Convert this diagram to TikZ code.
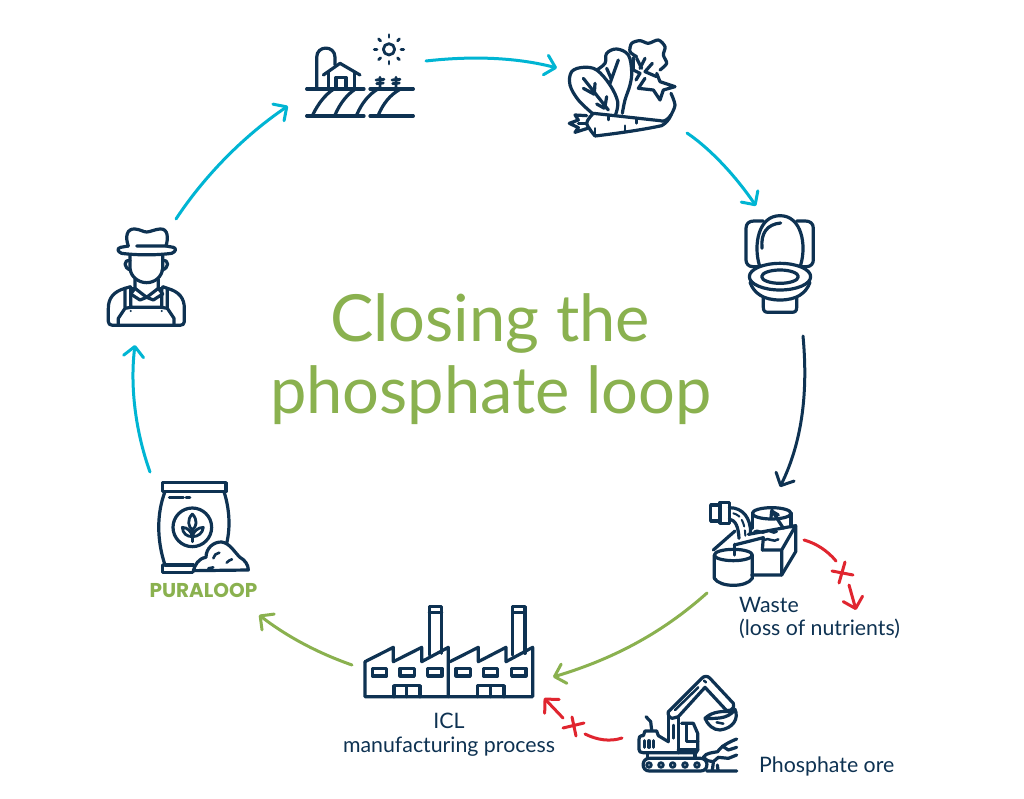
\documentclass[tikz,border=0pt]{standalone}
\usepackage{fontspec}
\usetikzlibrary{arrows.meta}
\setmainfont{Lato}
\newfontfamily\brandfont{Poppins}[UprightFont=*-Bold]
\definecolor{navy}{HTML}{0E3252}
\definecolor{cy}{HTML}{00B5D3}
\definecolor{grn}{HTML}{8AB14F}
\definecolor{rd}{HTML}{E0252F}
\tikzset{
  ic/.style={draw=navy,line width=3.2pt,line cap=round,line join=round},
  zoomed/.style={x=0.33333pt,y=-0.33333pt},
  flow/.style={line width=3pt,line cap=round,-{Straight Barb[length=10pt,width=20pt,round]}},
  cyflow/.style={flow,draw=cy},
  navyflow/.style={flow,draw=navy},
  grnflow/.style={flow,draw=grn},
  redflow/.style={flow,draw=rd},
  redseg/.style={draw=rd,line width=3pt,line cap=round},
  lbl/.style={inner sep=0pt,text=navy,font=\fontsize{21.3}{23.5}\selectfont,align=left},
  ttl/.style={inner sep=0pt,text=grn,anchor=base,font=\fontsize{65}{70}\selectfont},
}
\begin{document}
\begin{tikzpicture}[x=1pt,y=-1pt]
\useasboundingbox (0,0) rectangle (1024,799);
\fill[white] (0,0) rectangle (1024,799);

% title
\node[name=title1,ttl] at (490,341) {Closing the};
\node[name=title2,ttl] at (491,413) {phosphate loop};

% farm
\begin{scope}[shift={(290,20)},zoomed]
\draw[ic] (50,207)--(222,207) (240,207)--(370,207) (50,288)--(222,288) (240,288)--(370,288);
\draw[ic] (68,285) .. controls (85,250) and (105,225) .. (130,208);
\draw[ic] (135,285) .. controls (150,250) and (170,225) .. (195,208);
\draw[ic] (200,285) .. controls (215,250) and (235,225) .. (262,208);
\draw[ic] (265,285) .. controls (280,250) and (300,225) .. (330,208);
\draw[ic] (80,205)--(80,112) .. controls (80,75) and (135,75) .. (135,112)--(135,135);
\draw[ic] (100,165)--(150,130)--(210,165);
\draw[ic] (115,155)--(115,205) (193,155)--(193,205);
\draw[ic] (138,205)--(138,172)--(168,172)--(168,205);
\draw[ic,line width=2.8pt] (297,88) circle[radius=17];
\foreach \a in {0,45,...,315}{\draw[ic,line width=2.8pt] (297,88) ++(\a:36) -- ++(\a:8);}
\draw[ic,line width=2.8pt] (270,172)--(270,205) (258,180)--(282,178) (260,191)--(280,189);
\draw[ic,line width=2.8pt] (318,172)--(318,205) (306,180)--(330,178) (308,191)--(328,189);
\end{scope}

% vegetables
\begin{scope}[shift={(565,35)},zoomed]
\draw[ic] plot[smooth,tension=.6] coordinates {(82,235)(40,195)(15,150)(20,110)(55,97)(95,105)(135,150)(158,200)(152,238)};
\draw[ic] (55,130)--(130,225) (90,145)--(88,175) (55,160)--(88,178) (125,185)--(120,215) (95,207)--(118,220);
\draw[ic] plot[smooth,tension=.6] coordinates {(95,105)(120,85)(125,55)(155,42)(190,60)(200,110)(195,150)(180,195)(172,235)};
\draw[ic] (160,75)--(135,145) (125,100)--(138,130);
\draw[ic] plot[smooth,tension=.5] coordinates {(215,65)(195,50)(200,25)(225,17)(250,25)(280,15)(300,35)(295,60)(305,85)(285,105)};
\draw[ic] (205,68)--(205,105)--(225,115)--(213,135);
\draw[ic] (215,70)--(230,100) (240,70)--(225,100) (262,85)--(240,110)--(275,125);
\draw[ic] (240,130)--(220,160)--(265,165)--(285,195)--(295,165)--(330,155)--(285,140)--(275,115);
\draw[ic] plot[smooth] coordinates {(318,175)(330,210)(318,240)};
\draw[ic] (85,235)--(285,257) .. controls (295,262) and (308,255) .. (318,240);
\draw[ic] (90,303) .. controls (150,296) and (230,285) .. (290,272) .. controls (302,265) and (312,255) .. (318,240);
\draw[ic] plot[smooth] coordinates {(85,235)(65,265)(90,303)};
\draw[ic] (65,242)--(30,240)--(40,255)--(13,265)--(40,278)--(30,292)--(68,280);
\draw[ic] (40,265)--(65,265);
\draw[ic,line width=2.5pt] (130,240)--(130,255) (180,272)--(180,290) (215,250)--(215,265) (90,280)--(90,300);
\end{scope}

% toilet
\begin{scope}[shift={(730,205)},zoomed]
\draw[ic] (85,185)--(68,185) .. controls (55,185) and (48,175) .. (48,165)--(48,70) .. controls (48,55) and (58,48) .. (72,48)--(100,48);
\draw[ic] (215,185)--(230,185) .. controls (243,185) and (250,175) .. (250,165)--(250,70) .. controls (250,55) and (240,48) .. (226,48)--(200,48);
\draw[ic] (88,180) .. controls (70,120) and (85,32) .. (150,32) .. controls (215,32) and (230,120) .. (212,180);
\draw[ic] (96,130) .. controls (92,85) and (110,58) .. (152,54);
\draw[ic] (150,215) ellipse[x radius=92,y radius=40];
\draw[ic] (150,215) ellipse[x radius=55,y radius=20];
\draw[ic] (60,232) .. controls (72,265) and (100,285) .. (150,285) .. controls (200,285) and (228,265) .. (240,232);
\draw[ic] (100,278)--(100,308) .. controls (100,318) and (105,322) .. (115,322)--(185,322) .. controls (195,322) and (200,318) .. (200,308)--(200,278);
\end{scope}

% waste treatment
\begin{scope}[shift={(705,495)},zoomed]
\draw[ic] (17,30) rectangle (45,78);
\draw[ic] (45,22) rectangle (73,85);
\draw[ic] (73,38) .. controls (115,38) and (137,70) .. (137,115);
\draw[ic] (73,72) .. controls (92,76) and (100,95) .. (102,130);
\draw[ic,line width=2pt,dash pattern=on 7pt off 4pt] (85,55) .. controls (108,60) and (120,85) .. (121,122);
\draw[ic] (25,165)--(90,108);
\draw[ic] (200,55) ellipse[x radius=58,y radius=17];
\draw[ic] (142,55)--(142,100) (258,55)--(258,95);
\draw[ic] (200,45)--(235,100) (200,48)--(198,68) (200,48)--(220,60);
\draw[ic] (130,118)--(272,92)--(272,170)--(230,240)--(140,240);
\draw[ic] (272,92)--(230,165)--(230,240) (172,165)--(230,165);
\draw[ic] (88,150)--(175,128)--(172,165);
\draw[ic,line width=2.5pt] (148,110) .. controls (160,100) and (170,120) .. (182,110) .. controls (194,100) and (203,120) .. (215,110);
\draw[ic,line width=2.5pt] (178,135) .. controls (190,125) and (205,145) .. (220,133);
\draw[ic] (85,180) ellipse[x radius=57,y radius=17];
\draw[ic] (88,148)--(88,180);
\draw[ic] (28,180)--(28,250) .. controls (45,278) and (125,278) .. (142,250)--(142,180);
\end{scope}

% factory
\begin{scope}[shift={(340,590)},zoomed]
\draw[ic] (268,195)--(268,50)--(305,50)--(305,190) (268,68)--(305,68);
\draw[ic] (518,195)--(518,50)--(555,50)--(555,190) (518,68)--(555,68);
\draw[ic] (75,215)--(160,172)--(160,215)--(245,172)--(245,215)--(325,172)--(325,320);
\draw[ic] (75,215)--(75,320)--(578,320)--(578,172)--(498,215)--(498,172)--(415,215)--(415,172)--(330,215);
\foreach \x in {97,180,263,348,430,515}{\draw[ic] (\x,235) rectangle ++(43,23);}
\draw[ic] (162,320)--(162,287)--(240,287)--(240,320) (200,287)--(200,320);
\draw[ic] (413,320)--(413,287)--(492,287)--(492,320) (452,287)--(452,320);
\end{scope}

% excavator
\begin{scope}[shift={(635,670)},zoomed]
\draw[ic] (43,265)--(197,265) .. controls (222,265) and (222,303) .. (197,303)--(43,303) .. controls (18,303) and (18,265) .. (43,265);
\foreach \x in {42,78,113,150,186}{\draw[ic,line width=2.8pt] (\x,285) circle[radius=7];}
\draw[ic] (38,262)--(38,248) (180,262)--(180,245);
\draw[ic] (100,215)--(70,197)--(65,183)--(30,183)--(25,197)--(20,197) .. controls (14,197) and (12,202) .. (12,208)--(12,238) .. controls (12,245) and (16,248) .. (24,248)--(185,248);
\draw[ic] (33,140)--(47,155)--(50,180);
\draw[ic] (28,212)--(28,232) (42,212)--(42,232) (55,212)--(55,232);
\draw[ic] (140,160)--(175,160)--(188,190)--(188,240)--(172,248);
\draw[ic] (155,165)--(155,215)--(188,215) (130,240)--(188,240);
\draw[ic] (100,125)--(100,195)--(100,215) (130,140)--(130,248);
\draw[ic,line width=2.5pt] (115,165)--(115,205);
\draw[ic] (100,125)--(200,25) .. controls (208,17) and (218,17) .. (225,25)--(295,100) .. controls (298,108) and (296,116) .. (288,120)--(275,122)--(210,52)--(130,140)--(112,145) .. controls (102,143) and (98,135) .. (100,125);
\draw[ic,line width=2.5pt] (120,120)--(190,52) (207,32)--(213,37);
\draw[ic] (210,145) .. controls (225,130) and (250,122) .. (285,125) (300,118) .. controls (312,145) and (295,175) .. (255,180) .. controls (235,180) and (218,165) .. (210,145) .. controls (235,145) and (280,150) .. (300,118);
\draw[ic,line width=2.5pt] (245,157)--(265,161);
\draw[ic] (205,262) .. controls (212,248) and (235,248) .. (248,245) .. controls (258,228) and (285,215) .. (305,207);
\draw[ic] (305,232)--(280,240)--(262,228);
\draw[ic] (305,255)--(280,265)--(250,262)--(235,275)--(218,272)--(205,262);
\draw[ic] (215,303)--(305,303) (235,278)--(232,300) (247,285)--(249,300);
\end{scope}

% bag
\begin{scope}[shift={(130,470)},zoomed]
\draw[ic] (98,38) rectangle (288,65);
\draw[ic] (105,65) .. controls (80,130) and (80,210) .. (105,285);
\draw[ic] (282,65) .. controls (298,115) and (302,170) .. (290,220);
\draw[ic] (190,285)--(105,285) (98,285)--(98,308)--(188,308);
\draw[ic,line width=2.8pt] (118,83)--(160,83) (168,83)--(180,83);
\draw[ic] (187,172) circle[radius=58];
\draw[ic,line width=2.8pt] (187,132) .. controls (170,150) and (175,170) .. (187,180) .. controls (200,170) and (204,150) .. (187,132);
\draw[ic,line width=2.8pt] (187,180)--(187,215);
\draw[ic,line width=2.8pt] (187,200) .. controls (170,200) and (158,190) .. (157,172) .. controls (172,172) and (185,185) .. (187,200);
\draw[ic,line width=2.8pt] (187,200) .. controls (204,200) and (218,190) .. (220,172) .. controls (204,172) and (189,185) .. (187,200);
\draw[ic] (190,302) .. controls (195,285) and (205,265) .. (228,262) .. controls (228,235) and (250,215) .. (275,216) .. controls (300,220) and (312,245) .. (330,262) .. controls (345,270) and (355,285) .. (355,300)--(190,302);
\draw[ic,line width=2.6pt] (250,265) .. controls (252,255) and (258,250) .. (268,248);
\draw[ic,line width=2.6pt] (290,278) .. controls (295,272) and (300,270) .. (306,268);
\draw[ic,line width=2.6pt] (235,295)--(250,292);
\end{scope}
\node[name=brand,inner sep=0pt,text=grn] at (203.5,590.5) {\brandfont\fontsize{20}{22}\selectfont PURALOOP};

% farmer
\begin{scope}[shift={(90,220)},zoomed]
\draw[ic] (115,78) .. controls (105,50) and (110,25) .. (135,27) .. controls (150,28) and (160,36) .. (170,36) .. controls (180,36) and (195,28) .. (210,27) .. controls (235,25) and (235,55) .. (228,78);
\draw[ic] (140,78)--(228,78)--(250,82) .. controls (260,85) and (258,95) .. (245,100) .. controls (200,106) and (140,106) .. (95,100) .. controls (82,95) and (80,85) .. (92,82)--(115,78);
\draw[ic] (120,105)--(120,145) .. controls (122,170) and (145,188) .. (170,188) .. controls (195,188) and (216,170) .. (218,145)--(218,105);
\draw[ic] (120,122) .. controls (100,118) and (100,145) .. (122,150);
\draw[ic] (218,122) .. controls (238,118) and (238,145) .. (216,150);
\draw[ic] (135,178)--(135,205)--(170,232)--(205,205)--(205,178);
\draw[ic] (135,205)--(122,205) (205,205)--(218,205);
\draw[ic] (135,205)--(122,222)--(150,240)--(170,232)--(190,240)--(218,222)--(205,205);
\draw[ic] (122,200) -- (105,205) .. controls (70,215) and (55,235) .. (55,265)--(55,305) .. controls (55,312) and (60,316) .. (68,316)--(270,316) .. controls (278,316) and (283,312) .. (283,305)--(283,265) .. controls (283,235) and (268,215) .. (232,205)--(218,200);
\draw[ic] (105,205)--(105,265)--(85,295)--(85,316) (122,205)--(122,262)--(215,262)--(215,205) (232,205)--(232,265)--(252,295)--(252,316);
\draw[ic] (105,265)--(122,262) (215,262)--(232,265);
\fill[navy] (122,273) circle[radius=3.5] (215,273) circle[radius=3.5];
\end{scope}

% connector ends
\coordinate (farmOut) at (426,61);
\coordinate (vegIn) at (557,68);
\coordinate (vegOut) at (687,133);
\coordinate (toiletIn) at (756,206);
\coordinate (toiletOut) at (803,336);
\coordinate (wasteIn) at (780,487);
\coordinate (wasteOut) at (707,593);
\coordinate (factoryIn) at (553,677);
\coordinate (factoryOut) at (352,665);
\coordinate (bagIn) at (259,615);
\coordinate (bagOut) at (150,472);
\coordinate (farmerIn) at (135,345);
\coordinate (farmerOut) at (176,219);
\coordinate (farmIn) at (288,106);
\coordinate (lossStart) at (804,540);
\coordinate (lossEnd) at (856,610);
\coordinate (oreStart) at (622,738);
\coordinate (oreEnd) at (544,698);

% connectors
\draw[cyflow] (farmOut) .. controls (470,56) and (515,57) .. (vegIn);
\draw[cyflow] (vegOut) .. controls (712,150) and (737,178) .. (toiletIn);
\draw[navyflow] (toiletOut) .. controls (808,390) and (803,440) .. (wasteIn);
\draw[grnflow] (wasteOut) .. controls (660,635) and (610,660) .. (factoryIn);
\draw[grnflow] (factoryOut) .. controls (315,652) and (285,635) .. (bagIn);
\draw[cyflow] (bagOut) .. controls (135,430) and (130,385) .. (farmerIn);
\draw[cyflow] (farmerOut) .. controls (205,175) and (245,135) .. (farmIn);

% red blocked links
\draw[redseg] (lossStart) .. controls (815,543) and (827,550) .. (836,561);
\draw[redseg] (832,571)--(853,575) (845,562)--(839,583);
\draw[redflow] (849,585)--(lossEnd);
\draw[redseg] (oreStart) .. controls (610,742) and (597,740) .. (585,734);
\draw[redseg] (563,728)--(584,723) (572,717)--(576,736);
\draw[redflow] (563,718)--(oreEnd);

% labels
\node[name=wasteLbl,lbl,anchor=north west] at (739,597) {Waste\\(loss of nutrients)};
\node[name=iclLbl,lbl,anchor=north,align=center] at (449,713) {ICL\\manufacturing process};
\node[name=oreLbl,lbl,anchor=base west] at (759,772) {Phosphate ore};
\end{tikzpicture}
\end{document}
